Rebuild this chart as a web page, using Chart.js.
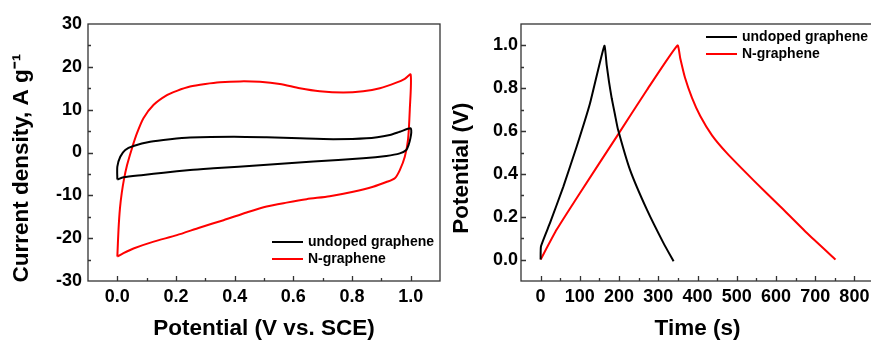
<!DOCTYPE html>
<html>
<head>
<meta charset="utf-8">
<script src="https://cdn.jsdelivr.net/npm/chart.js@4/dist/chart.umd.min.js"></script>
<style>
  body { margin: 0; width: 871px; height: 342px; overflow: hidden; background: #fff; position: relative; }
  canvas { position: absolute; top: 0; }
  #cvChart { left: 0; }
  #gcdChart { left: 440px; }
</style>
</head>
<body>
<canvas id="cvChart" width="445" height="342"></canvas>
<canvas id="gcdChart" width="440" height="342"></canvas>
<script>
// Series names and colours (shared by both panels)
const seriesNames = ["undoped graphene", "N-graphene"];
const seriesColors = ["#000000", "#ff0000"];

// Cyclic voltammetry, undoped graphene (potential V, current A/g), one closed loop
const cvPotentialUndoped = [0, 0, 0.01, 0.027, 0.055, 0.112, 0.18, 0.248, 0.396, 0.509, 0.622, 0.736, 0.849, 0.929, 0.963, 1.0,
  1.002, 0.999, 0.993, 0.985, 0.963, 0.917, 0.838, 0.668, 0.498, 0.328, 0.248, 0.158, 0.089, 0.021, 0];
const cvCurrentUndoped = [-6.3, -3.3, -1.0, 0.6, 1.5, 2.5, 3.1, 3.5, 3.7, 3.55, 3.3, 3.1, 3.3, 4.1, 4.85, 5.65,
  4.6, 3.3, 1.75, 0.6, -0.2, -0.8, -1.35, -2.1, -2.9, -3.7, -4.1, -4.7, -5.25, -5.8, -6.3];

// Cyclic voltammetry, N-graphene
const cvPotentialN = [0, 0.004, 0.009, 0.015, 0.022, 0.033, 0.05, 0.067, 0.089, 0.123, 0.169, 0.203, 0.248, 0.3, 0.35,
  0.418, 0.486, 0.554, 0.622, 0.69, 0.77, 0.838, 0.895, 0.951, 0.98, 1.0,
  0.997, 0.991, 0.98, 0.963, 0.946, 0.917, 0.872, 0.804, 0.724, 0.645, 0.577, 0.509, 0.441, 0.362, 0.282, 0.203, 0.124, 0.055, 0.021, 0];
const cvCurrentN = [-24.3, -18, -13, -9.5, -6.5, -3.0, 1.0, 4.5, 8.0, 11.1, 13.4, 14.4, 15.4, 16.0, 16.4,
  16.6, 16.5, 16.0, 15.0, 14.3, 14.0, 14.3, 15.0, 16.3, 17.2, 18.2,
  10, 3, -1, -4.1, -6.0, -6.9, -8.0, -9.15, -10.2, -10.9, -11.7, -12.6, -14.0, -15.8, -17.5, -19.3, -20.8, -22.4, -23.5, -24.3];

// Galvanostatic charge/discharge (time s, potential V)
const gcdTimeUndoped = [0, 1, 24, 58, 92, 126, 162.5, 168.5, 174.4, 181.3, 189.8, 197, 228, 271, 313, 339];
const gcdPotentialUndoped = [0, 0.062, 0.171, 0.341, 0.528, 0.73, 0.998, 0.908, 0.83, 0.753, 0.675, 0.61, 0.419, 0.233, 0.078, -0.008];
const gcdTimeN = [0, 41, 100, 194, 271, 349, 356, 368, 386, 407, 437, 475, 543, 611, 679, 752];
const gcdPotentialN = [0, 0.14, 0.31, 0.574, 0.792, 1.0, 0.94, 0.85, 0.755, 0.67, 0.58, 0.497, 0.37, 0.248, 0.124, 0];

const FONT = "'Liberation Sans', Arial, Helvetica, sans-serif";
const NB = "\u00A0";

function toPoints(xs, ys) {
  return xs.map((x, i) => ({ x: x, y: ys[i] }));
}

function makeDatasets(pairs, tension) {
  return pairs.map((p, i) => ({
    label: seriesNames[i],
    data: toPoints(p[0], p[1]),
    showLine: true,
    borderColor: seriesColors[i],
    backgroundColor: seriesColors[i],
    borderWidth: 2,
    pointRadius: 0,
    tension: tension
  }));
}

// Linear axis: ticks every `step`, labels only every `every` steps between lo and hi
function makeScale(min, max, step, every, lo, hi, digits, title, pad, size) {
  return {
    type: "linear",
    min: min,
    max: max,
    grid: { display: false, drawTicks: false },
    border: { display: false },
    ticks: {
      stepSize: step,
      autoSkip: false,
      maxRotation: 0,
      padding: pad,
      color: "#000",
      font: { family: FONT, size: 18, weight: "bold" },
      callback: v => {
        if (Math.abs(v) < 1e-9) v = 0;
        const k = Math.round(v / step);
        return (k % every === 0 && v >= lo - 1e-9 && v <= hi + 1e-9) ? v.toFixed(digits) : "";
      }
    },
    title: {
      display: true,
      text: title,
      color: "#000",
      font: { family: FONT, size: 22.5, weight: "bold" },
      padding: { top: 8, bottom: 0 }
    },
    afterFit: s => {
      if (s.isHorizontal()) s.height = size; else s.width = size;
    }
  };
}

// Box frame, inward tick marks and an inset legend
const framePlugin = {
  id: "frame",
  afterDatasetsDraw(chart, args, opts) {
    const { ctx, chartArea: a, scales } = chart;
    ctx.save();
    ctx.strokeStyle = "#333";
    ctx.lineWidth = 1.3;
    ctx.strokeRect(a.left, a.top, a.right - a.left, a.bottom - a.top);

    ctx.beginPath();
    scales.x.ticks.forEach(t => {
      if (t.value <= scales.x.min || t.value >= scales.x.max) return;
      const x = Math.round(scales.x.getPixelForValue(t.value)) + 0.5;
      const len = t.label ? 5 : 3;
      ctx.moveTo(x, a.bottom);
      ctx.lineTo(x, a.bottom - len);
    });
    scales.y.ticks.forEach(t => {
      if (t.value <= scales.y.min || t.value >= scales.y.max) return;
      const y = Math.round(scales.y.getPixelForValue(t.value)) + 0.5;
      const len = t.label ? 5 : 3;
      ctx.moveTo(a.left, y);
      ctx.lineTo(a.left + len, y);
    });
    ctx.stroke();

    // legend
    const lx = opts.fromRight ? a.right - opts.x : a.left + opts.x;
    const ly = opts.fromBottom ? a.bottom - opts.y : a.top + opts.y;
    ctx.font = "bold 14px " + FONT;
    ctx.textBaseline = "middle";
    ctx.textAlign = "left";
    chart.data.datasets.forEach((ds, i) => {
      const y = ly + i * 17;
      ctx.strokeStyle = ds.borderColor;
      ctx.lineWidth = 2;
      ctx.beginPath();
      ctx.moveTo(lx, y);
      ctx.lineTo(lx + 31, y);
      ctx.stroke();
      ctx.fillStyle = "#000";
      ctx.fillText(ds.label, lx + 36, y);
    });
    ctx.restore();
  }
};

new Chart(document.getElementById("cvChart"), {
  type: "scatter",
  data: {
    datasets: makeDatasets([[cvPotentialUndoped, cvCurrentUndoped], [cvPotentialN, cvCurrentN]], 0.25)
  },
  options: {
    responsive: false,
    animation: false,
    layout: { padding: { top: 24, right: 5, left: 0, bottom: 0 } },
    scales: {
      x: makeScale(-0.1, 1.1, 0.1, 2, 0, 1, 1, "Potential (V vs. SCE)", 5, 61),
      y: makeScale(-30, 30, 5, 2, -30, 30, 0, "Current density, A g\u207B\u00B9" + NB.repeat(5), 6, 88)
    },
    plugins: {
      legend: { display: false },
      tooltip: { enabled: false },
      frame: { x: 168, y: 39, fromRight: true, fromBottom: true }
    }
  },
  plugins: [framePlugin]
});

new Chart(document.getElementById("gcdChart"), {
  type: "scatter",
  data: {
    datasets: makeDatasets([[gcdTimeUndoped, gcdPotentialUndoped], [gcdTimeN, gcdPotentialN]], 0.15)
  },
  options: {
    responsive: false,
    animation: false,
    layout: { padding: { top: 24, right: 6, left: 0, bottom: 0 } },
    scales: {
      x: makeScale(-50, 850, 50, 2, 0, 800, 0, "Time (s)", 5, 61),
      y: makeScale(-0.1, 1.1, 0.1, 2, 0, 1, 1, "Potential (V)" + NB.repeat(5), 3, 81)
    },
    plugins: {
      legend: { display: false },
      tooltip: { enabled: false },
      frame: { x: 185, y: 13, fromRight: false, fromBottom: false }
    }
  },
  plugins: [framePlugin]
});
</script>
</body>
</html>
